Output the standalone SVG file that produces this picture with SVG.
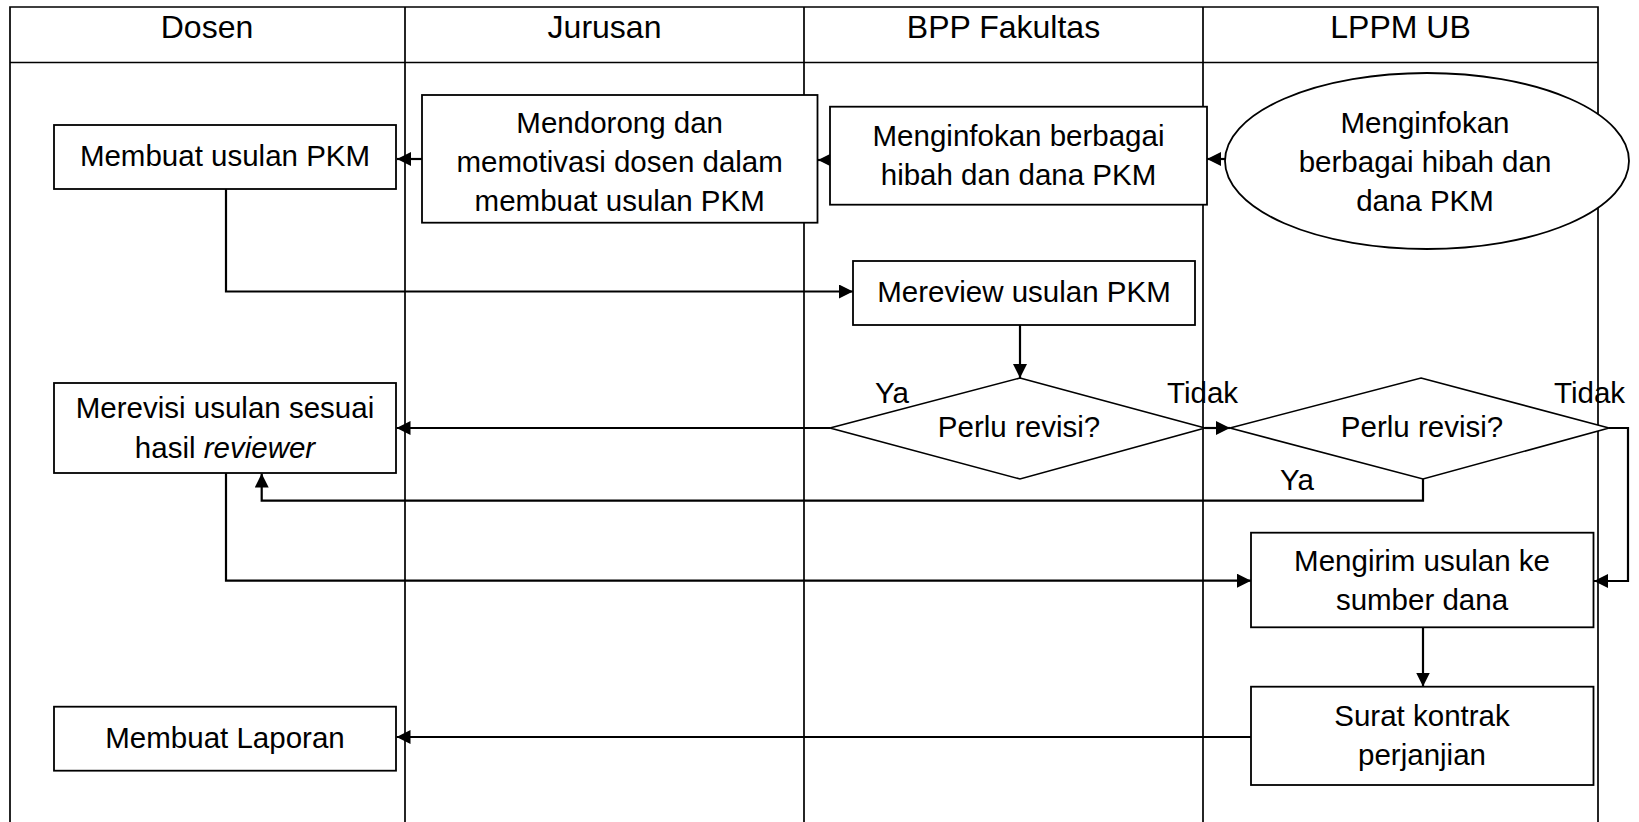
<svg xmlns="http://www.w3.org/2000/svg" width="1639" height="822" viewBox="0 0 1639 822">
<style>
text{font-family:"Liberation Sans",Arial,sans-serif;font-size:29.5px;fill:#000;text-anchor:middle}
.hdr{font-size:32px}
.lane{stroke:#000;stroke-width:1.7;fill:none}
.box{fill:#fff;stroke:#000;stroke-width:1.8}
.dia{fill:#fff;stroke:#000;stroke-width:1.6}
.con{fill:none;stroke:#000;stroke-width:2.2;marker-end:url(#arr)}
.lbl{text-anchor:start}
</style>
<defs>
<marker id="arr" markerUnits="userSpaceOnUse" markerWidth="16" markerHeight="16" refX="14" refY="7" orient="auto">
<path d="M0,0 L14,7 L0,14 z" fill="#000"/>
</marker>
</defs>
<rect width="1639" height="822" fill="#fff"/>
<g id="lanes">
<path class="lane" d="M10,822 V7 H1598 V822 M10,62.5 H1598 M405,7 V822 M804,7 V822 M1203,7 V822"/>
<text class="hdr" x="207" y="38">Dosen</text>
<text class="hdr" x="604.5" y="38">Jurusan</text>
<text class="hdr" x="1003.5" y="38">BPP Fakultas</text>
<text class="hdr" x="1400.5" y="38">LPPM UB</text>
</g>
<g id="connectors">
<path class="con" d="M1233,159 H1207"/>
<path class="con" d="M830,160 H818"/>
<path class="con" d="M422,159 H397"/>
<path class="con" d="M226,189 V291.5 H853"/>
<path class="con" d="M1020,325 V378"/>
<path class="con" d="M830,428 H396.5"/>
<path class="con" d="M1205,428 H1230"/>
<path class="con" d="M1423,479 V500.7 H261.7 V473.5"/>
<path class="con" d="M1609,428 H1628 V581 H1594"/>
<path class="con" d="M226,473 V580.7 H1251"/>
<path class="con" d="M1423,627 V686.5"/>
<path class="con" d="M1251,737 H396.5"/>
<text class="lbl" x="875" y="403">Ya</text>
<text class="lbl" x="1167" y="403">Tidak</text>
<text class="lbl" x="1554" y="403">Tidak</text>
<text class="lbl" x="1280" y="490">Ya</text>
</g>
<g id="n_ellipse">
<ellipse class="box" cx="1427" cy="161" rx="202" ry="88"/>
<text x="1425" y="133">Menginfokan</text>
<text x="1425" y="172">berbagai hibah dan</text>
<text x="1425" y="211">dana PKM</text>
</g>
<g id="n_bpp_info">
<rect class="box" x="830" y="106.7" width="377" height="98"/>
<text x="1018.5" y="146">Menginfokan berbagai</text>
<text x="1018.5" y="185">hibah dan dana PKM</text>
</g>
<g id="n_mendorong">
<rect class="box" x="422" y="95" width="395.5" height="127.7"/>
<text x="619.7" y="133">Mendorong dan</text>
<text x="619.7" y="172">memotivasi dosen dalam</text>
<text x="619.7" y="211">membuat usulan PKM</text>
</g>
<g id="n_membuat">
<rect class="box" x="54" y="125" width="342" height="64"/>
<text x="225" y="166">Membuat usulan PKM</text>
</g>
<g id="n_mereview">
<rect class="box" x="853" y="261" width="342" height="64"/>
<text x="1024" y="302">Mereview usulan PKM</text>
</g>
<g id="n_dia1">
<polygon class="dia" points="1020,378 1205,428 1020,479 830,428"/>
<text x="1019" y="437">Perlu revisi?</text>
</g>
<g id="n_dia2">
<polygon class="dia" points="1421,378 1609,428 1423,479 1230,428"/>
<text x="1422" y="437">Perlu revisi?</text>
</g>
<g id="n_merevisi">
<rect class="box" x="54" y="383" width="342" height="90"/>
<text x="225" y="418">Merevisi usulan sesuai</text>
<text x="225" y="458">hasil <tspan font-style="italic">reviewer</tspan></text>
</g>
<g id="n_mengirim">
<rect class="box" x="1251" y="532.7" width="342.5" height="94.6"/>
<text x="1422" y="571">Mengirim usulan ke</text>
<text x="1422" y="610">sumber dana</text>
</g>
<g id="n_surat">
<rect class="box" x="1251" y="686.7" width="342.5" height="98.3"/>
<text x="1422" y="726">Surat kontrak</text>
<text x="1422" y="765">perjanjian</text>
</g>
<g id="n_laporan">
<rect class="box" x="54" y="706.7" width="342" height="64"/>
<text x="225" y="748">Membuat Laporan</text>
</g>
</svg>
